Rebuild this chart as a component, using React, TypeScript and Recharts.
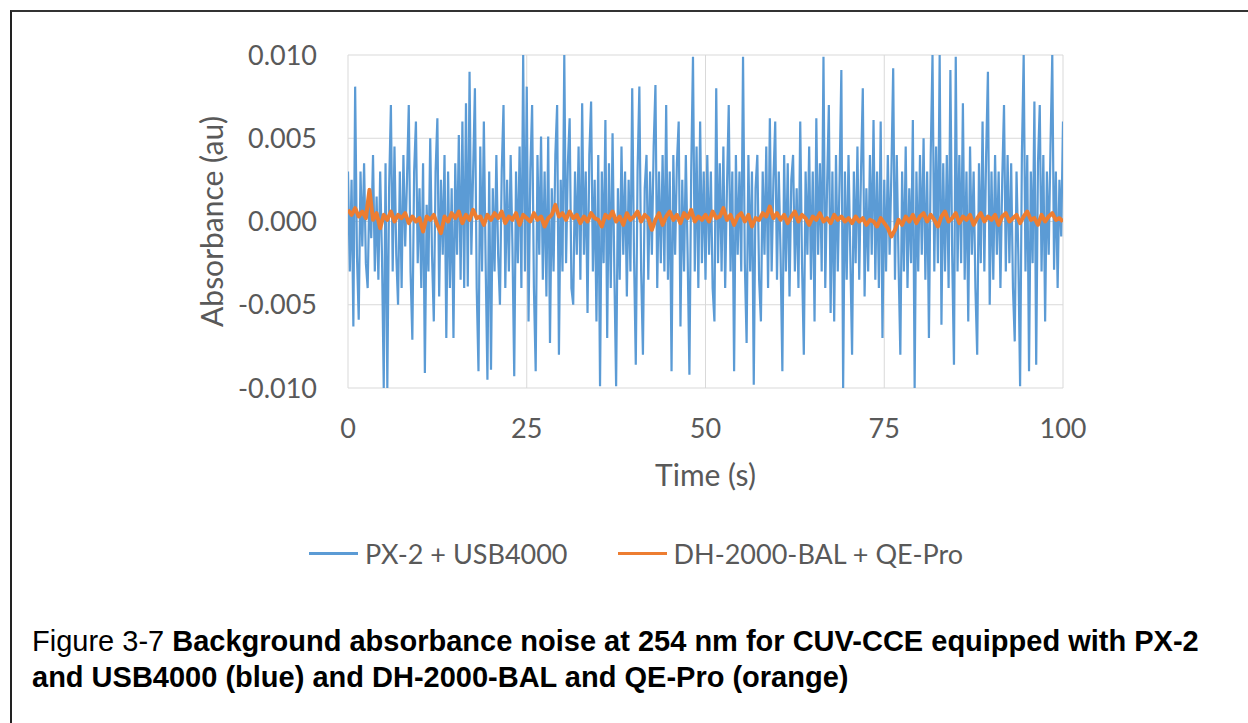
import { LineChart, Line, XAxis, YAxis, CartesianGrid, Legend } from 'recharts';

// absorbance values in milli-AU (divided by 1000 when the table is built)
// PX-2 + USB4000, one reading every 0.25 s
const BLUE_STEP = 0.25;
const blueMilliAu = [
  3, -3, 2.5, -6.3, 8.1, -2, -5.9, 3, -1.5, 3.5, -2.5, -4, 2, -1, 4, -3, 1.5, -3.5, 3, -2,
  -10, 3.5, -10, 2, 7, -3, 4.5, -2, -5, 3, -4, 4, -1.5, 2.5, 7, -3, -7.1, 3, 6, -2.5,
  2, -4, 3.5, -9.1, 1, -3, 5, -2, -6, 3, 6.2, -4.5, 2.5, -2, 4, -7, 3, -4, 2, -7,
  3.5, -2, 5.2, -3.5, 6, -4, 7.1, -3.9, 9, -2, 3, 8, -4, -9, 4.5, -3, 6, -2.5, -9.5, 3,
  -8.9, 2, -3, 4, -2, -5, 3, 7, -4, 2.5, -3, 4, -1.5, -9.3, 3, -2.5, 4.5, -4, 10, -3,
  8.1, -6, 3, 7, -4, -9, 4, -2, 5.1, -3.5, 3, -4.5, 5.1, -7.3, 2, -3, 4, 7, -8, 2.5,
  -3, 10, -2.5, 3.5, 6.2, -4, -5, 3, -2, 4.5, -3.5, 7.1, -2, 3, -5.5, 4, 7.2, -3, 2.5, -6,
  4, -9.9, 3, -2.5, 6.1, -7, 3.5, -4, 5.3, -3, -9.9, 2, -3.5, 4.5, -2, 3, -4.5, 2.5, -3, 8,
  -2, -8.6, 3, 8.1, -3, -8, 2, 4, -3.5, 3, -2, 4.5, 8.2, -4, 3, -2.5, 4, -3, 7, -3.5,
  3, -9, 4, -2, 3.5, 6, -6.3, 2.5, -3, 4, -2, -9.2, 3, 9.9, -3, 4.5, -4, 6, -2.5, 3,
  -3.5, 4, -2, 3, -4, -6, 8, -2.5, 3.5, -3, 4.5, -4, 2, 7, -3, 3, -9, 4, -2, 3,
  -3, 9.9, -2.5, -7.3, 4, -3, 3, -9.8, 2, 4, -3.5, -6, 3, -2, 4.5, -4, 6.2, -3, 2.5, 6,
  -3.5, 3, -2, -9, 4, -3, 3.5, -4.5, 2.5, 4, -3, 2, -4, 6, -2.5, -8, 3, -2, 4.5, -3.5,
  3, -6, 6.2, -2, 3.5, -3, 9.9, -4, 2, 7, -5.5, 3, -6, 4, -3, 2.5, 9.1, -10, 3, -3.5,
  4, -2, -8, 3, -2.5, 4.5, -3.5, 3, 8, -4.5, 2, -3, 4, -2, 6.1, -3.5, 3, -4, 6, -7,
  2.5, -3, 4, -2, 3, 9.2, -3.5, 4, -2.5, -8, 3, -3, 4.5, -4, 2, -2.5, 6.1, -10, 3, -3,
  4, -2, 5, -3.5, 3, -7, 4, 10, -3, 4.5, -2.5, 10, -6.2, 3.5, -3, 4, -4, 9.1, -2, -8.6,
  9.9, -3, 4, -2.5, 7.1, -3.5, 3, -6, 4.5, -2, 3, -4, -8, 3.5, -2.5, 6, -3, 4, 9, -5,
  3, -3.5, 4, -2, 3, -4, 2.5, 7, -3, 4, -2.5, 3.5, -4, -7.2, 3, -2, -9.9, 4, 10, -3,
  4, -9, 3, -2.5, 7.2, -8.6, 3.5, 7, -3, 4, -6, 3, -2, 4.5, 10, -2.9, 3, -4, 2.5, -0.9,
  6,
];

// DH-2000-BAL + QE-Pro, one reading every 0.5 s
const ORANGE_STEP = 0.5;
const orangeMilliAu = [
  0.7, 0.4, 0.8, 0.3, 0.6, 0.2, 1.9, 0.1, 0.5, -0.4, 0.4, 0.1, 0.6, 0.0, 0.4, 0.2, 0.5, -0.1, 0.3, 0.0,
  0.2, -0.6, 0.3, 0.1, 0.4, -0.2, -0.7, 0.3, 0.0, 0.5, 0.2, 0.6, -0.1, 0.4, 0.1, 0.7, 0.2, 0.3, -0.2, 0.4,
  0.1, 0.5, 0.2, 0.6, -0.1, 0.3, 0.1, 0.5, -0.2, 0.4, 0.2, 0.0, 0.5, 0.1, 0.3, -0.3, 0.2, 0.4, 1.0, 0.3,
  0.5, 0.1, 0.6, 0.2, 0.4, -0.1, 0.3, 0.0, 0.5, 0.2, 0.1, -0.3, 0.4, 0.2, 0.6, 0.0, 0.3, -0.2, 0.5, 0.1,
  0.3, 0.6, 0.0, 0.4, 0.2, -0.5, 0.1, 0.5, -0.2, 0.3, 0.6, 0.1, 0.4, -0.1, 0.5, 0.2, 0.7, 0.0, 0.3, 0.1,
  0.4, 0.0, 0.6, 0.2, 0.3, 0.8, 0.1, 0.4, -0.2, 0.3, 0.5, 0.0, 0.4, -0.3, 0.2, 0.1, 0.5, 0.3, 0.9, 0.2,
  0.5, 0.1, 0.4, -0.1, 0.3, 0.6, 0.0, 0.4, 0.2, -0.2, 0.3, 0.1, 0.5, 0.0, 0.2, -0.1, 0.4, 0.1, 0.3, 0.0,
  0.2, -0.1, 0.3, 0.0, 0.2, -0.2, 0.1, 0.0, -0.3, 0.2, -0.1, -0.4, -0.9, -0.5, 0.1, -0.2, 0.3, 0.0, 0.4, -0.1,
  0.3, 0.5, 0.0, 0.4, 0.1, -0.3, 0.3, 0.6, 0.0, 0.2, 0.5, -0.1, 0.3, 0.1, 0.4, -0.2, 0.2, 0.5, 0.0, 0.3,
  0.1, 0.4, -0.2, 0.3, 0.5, 0.0, 0.2, 0.4, -0.1, 0.3, 0.6, 0.1, 0.2, -0.2, 0.4, 0.0, 0.3, 0.5, 0.1, 0.2,
  0.0,
];

const xTicks = [0, 25, 50, 75, 100];
const yTicks = [-0.01, -0.005, 0, 0.005, 0.01];

const seriesNames = ['PX-2 + USB4000', 'DH-2000-BAL + QE-Pro'];
const seriesColors = ['#5B9BD5', '#ED7D31'];

// caption, split the way the reference wraps it
const captionLead = 'Figure 3-7 ';
const captionLine1 = 'Background absorbance noise at 254 nm for CUV-CCE equipped with PX-2';
const captionLine2 = 'and USB4000 (blue) and DH-2000-BAL and QE-Pro (orange)';

const blueData = blueMilliAu.map((v, i) => ({ t: i * BLUE_STEP, a: v / 1000 }));
const orangeData = orangeMilliAu.map((v, i) => ({ t: i * ORANGE_STEP, a: v / 1000 }));

const FONT = 'Lato, "Open Sans", sans-serif';
const tickFont = { fontFamily: FONT, fontSize: 27, fill: '#595959' };
const titleFont = { fontFamily: FONT, fontSize: 30, fill: '#595959' };

function ChartLegend() {
  return (
    <div style={{ display: 'flex', alignItems: 'center', height: 36, fontFamily: FONT, fontSize: 27, color: '#595959' }}>
      {seriesNames.map((name, i) => (
        <div key={name} style={{ display: 'flex', alignItems: 'center', marginRight: i === 0 ? 50 : 0 }}>
          <span style={{ display: 'inline-block', width: 49, height: 3, background: seriesColors[i], marginRight: 7 }} />
          <span>{name}</span>
        </div>
      ))}
    </div>
  );
}

export default function App() {
  return (
    <div style={{ position: 'absolute', left: 0, top: 0, width: 1248, height: 723, background: '#fff', overflow: 'hidden' }}>
      {/* figure frame: only top and left edges are in view */}
      <div style={{ position: 'absolute', left: 10, top: 10, width: 1238, height: 713, borderTop: '2px solid #333', borderLeft: '2px solid #222' }} />

      <div style={{ position: 'absolute', left: 0, top: 0 }}>
        <LineChart width={1248} height={560} margin={{ top: 55, right: 185, left: 212, bottom: 26 }}>
          <CartesianGrid stroke="#D9D9D9" strokeWidth={1} horizontalValues={yTicks} verticalValues={xTicks} />
          <XAxis
            type="number"
            dataKey="t"
            domain={[0, 100]}
            ticks={xTicks}
            allowDataOverflow
            axisLine={false}
            tickLine={false}
            height={110}
            tickMargin={25}
            tick={tickFont}
            label={{ value: 'Time (s)', position: 'insideBottom', offset: 12, style: titleFont }}
          />
          <YAxis
            type="number"
            domain={[-0.01, 0.01]}
            ticks={yTicks}
            allowDataOverflow
            axisLine={false}
            tickLine={false}
            width={136}
            tickMargin={25}
            tick={tickFont}
            tickFormatter={(v: number) => v.toFixed(3)}
            label={{ value: 'Absorbance (au)', angle: -90, position: 'insideLeft', offset: 0, style: { ...titleFont, textAnchor: 'middle' } }}
          />
          <Line
            data={blueData}
            dataKey="a"
            name={seriesNames[0]}
            type="linear"
            stroke={seriesColors[0]}
            strokeWidth={2.2}
            dot={false}
            isAnimationActive={false}
          />
          <Line
            data={orangeData}
            dataKey="a"
            name={seriesNames[1]}
            type="linear"
            stroke={seriesColors[1]}
            strokeWidth={4}
            strokeLinejoin="round"
            dot={false}
            isAnimationActive={false}
          />
          <Legend
            verticalAlign="bottom"
            content={() => <ChartLegend />}
            wrapperStyle={{ top: 535, bottom: 'auto', left: 309, width: 760, height: 36 }}
          />
        </LineChart>
      </div>

      <div
        style={{
          position: 'absolute',
          left: 32,
          top: 623,
          width: 1210,
          fontFamily: '"Liberation Sans", Arial, sans-serif',
          fontSize: 29,
          lineHeight: '36px',
          color: '#000',
          whiteSpace: 'nowrap',
        }}
      >
        <div>
          <span>{captionLead}</span>
          <b>{captionLine1}</b>
        </div>
        <div>
          <b>{captionLine2}</b>
        </div>
      </div>
    </div>
  );
}
